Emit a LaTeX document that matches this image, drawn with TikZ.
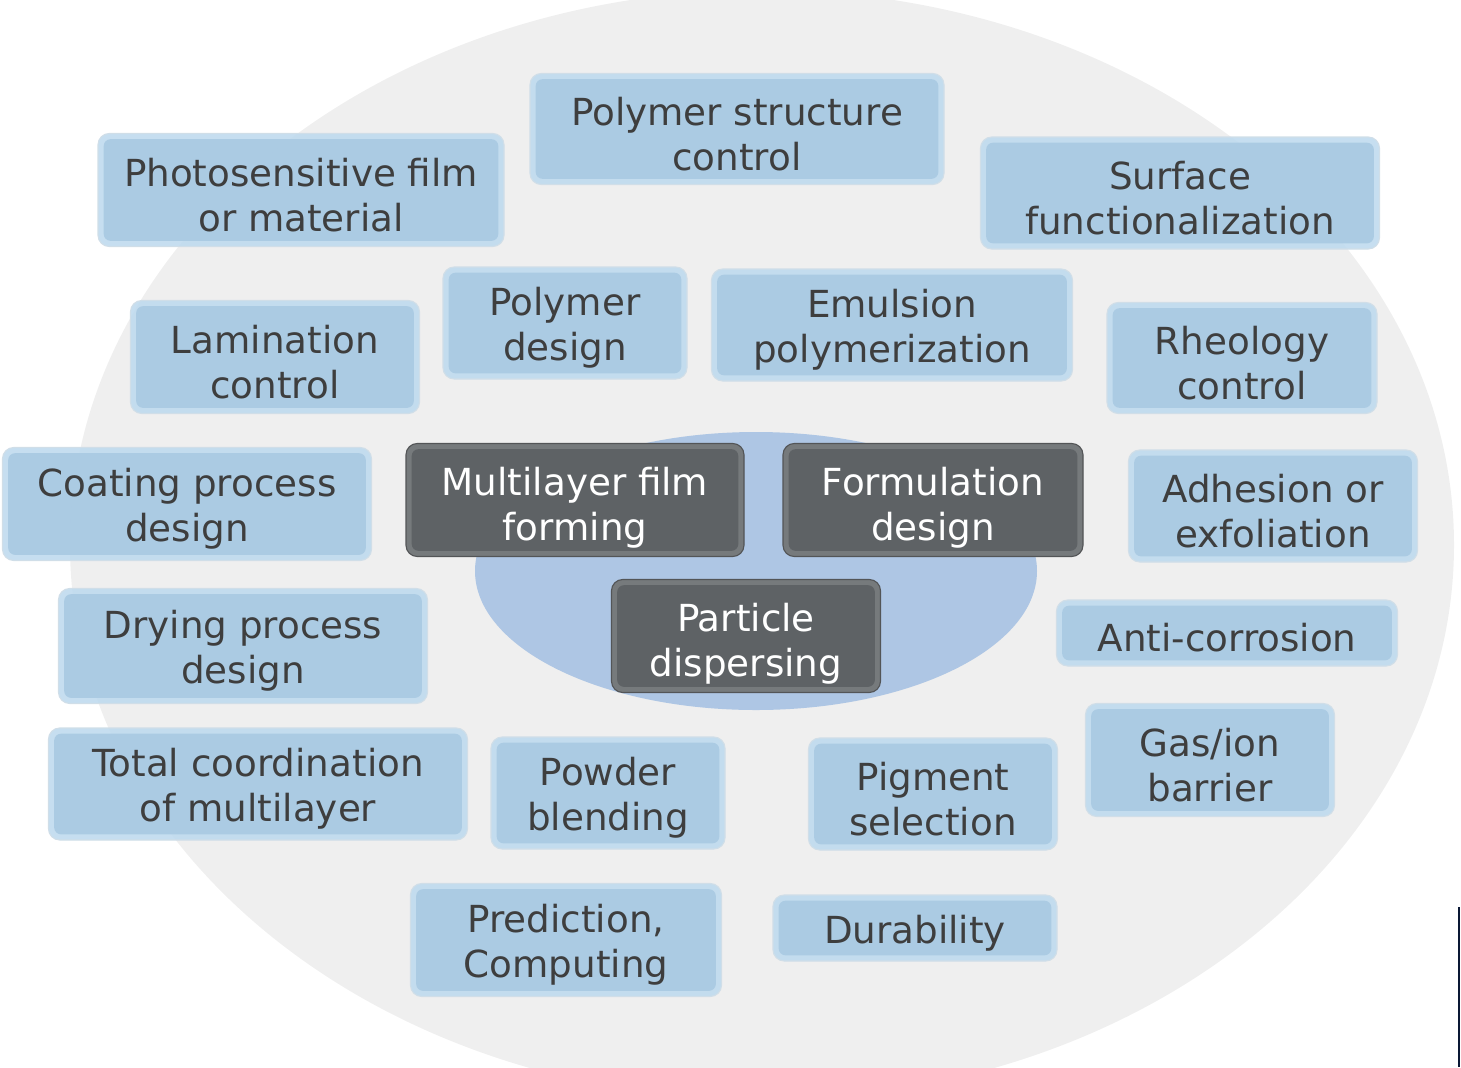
\documentclass[tikz,border=0pt]{standalone}
\usepackage{fontspec}
\setmainfont{DejaVu Sans}
\usepackage{xcolor}
\usepackage{tikz}
\definecolor{ringgray}{RGB}{239,239,239}
\definecolor{coreblue}{RGB}{174,198,228}
\definecolor{boxblue}{RGB}{168,201,226}
\definecolor{boxrim}{RGB}{190,218,238}
\definecolor{coregray}{RGB}{94,98,101}
\definecolor{corerim}{RGB}{118,122,124}
\definecolor{textgray}{RGB}{62,62,62}
\definecolor{edgenavy}{RGB}{10,24,52}
\tikzset{
    topic/.style={draw=boxrim!80!gray!60, line width=0.8pt, fill=boxrim, fill opacity=0.88,
        text opacity=1, rounded corners=8pt, text=textgray, align=center,
        font=\fontsize{26.5}{32}\selectfont, inner sep=0pt,
        path picture={\fill[boxblue, rounded corners=5pt]
            ([shift={(4pt,4pt)}]path picture bounding box.south west) rectangle
            ([shift={(-4pt,-4pt)}]path picture bounding box.north east);}},
    oneline/.style={execute at begin node={\rule{0pt}{27pt}}},
    twoline/.style={execute at begin node={\rule{0pt}{59pt}}},
    core/.style={topic, draw=corerim!70!black, fill=corerim, fill opacity=1, text=white,
        execute at begin node={\rule{0pt}{63pt}},
        path picture={\fill[coregray, rounded corners=5pt]
            ([shift={(4pt,4pt)}]path picture bounding box.south west) rectangle
            ([shift={(-4pt,-4pt)}]path picture bounding box.north east);}},
    boxsize/.style n args={2}{minimum width={#1*0.025cm}, minimum height={#2*0.025cm}}
}

\begin{document}
\begin{tikzpicture}[x=0.025cm, y=-0.025cm]
    \useasboundingbox (0,0) rectangle (1461,1067);
    \clip (0,0) rectangle (1461,1067);

    % Background discs
    \fill[ringgray] (762,545) ellipse [x radius=692, y radius=555];
    \fill[coreblue] (756,571) ellipse [x radius=281, y radius=139];

    % Outer ring of topics
    \node[topic, twoline, boxsize={414}{111}] (structure) at (737,129) {Polymer structure\\control};
    \node[topic, twoline, boxsize={406}{113}] (photo) at (301,190) {Photosensitive film\\or material};
    \node[topic, twoline, boxsize={399}{112}] (surface) at (1180,193) {Surface\\functionalization};
    \node[topic, twoline, boxsize={289}{113}] (lamination) at (275,357) {Lamination\\control};
    \node[topic, twoline, boxsize={244}{112}] (polydesign) at (565,323) {Polymer\\design};
    \node[topic, twoline, boxsize={361}{112}] (emulsion) at (892,325) {Emulsion\\polymerization};
    \node[topic, twoline, boxsize={270}{111}] (rheology) at (1242,358) {Rheology\\control};
    \node[topic, twoline, boxsize={369}{113}] (coating) at (187,504) {Coating process\\design};
    \node[topic, twoline, boxsize={289}{112}] (adhesion) at (1273,506) {Adhesion or\\exfoliation};
    \node[topic, twoline, boxsize={369}{115}] (drying) at (243,646) {Drying process\\design};
    \node[topic, oneline, boxsize={341}{66}] (corrosion) at (1227,633) {Anti-corrosion};
    \node[topic, twoline, boxsize={419}{112}] (coordination) at (258,784) {Total coordination\\of multilayer};
    \node[topic, twoline, boxsize={234}{112}] (powder) at (608,793) {Powder\\blending};
    \node[topic, twoline, boxsize={249}{112}] (pigment) at (933,794) {Pigment\\selection};
    \node[topic, twoline, boxsize={249}{113}] (barrier) at (1210,760) {Gas/ion\\barrier};
    \node[topic, twoline, boxsize={311}{113}] (prediction) at (566,940) {Prediction,\\Computing};
    \node[topic, oneline, boxsize={284}{66}] (durability) at (915,928) {Durability};

    % Core topics
    \node[core, boxsize={338}{113}] (multilayer) at (575,500) {Multilayer film\\forming};
    \node[core, boxsize={300}{113}] (formulation) at (933,500) {Formulation\\design};
    \node[core, boxsize={269}{113}] (particle) at (746,636) {Particle\\dispersing};

    \draw[edgenavy, line width=1.5pt] (1459,907) -- (1459,1067);
\end{tikzpicture}
\end{document}
